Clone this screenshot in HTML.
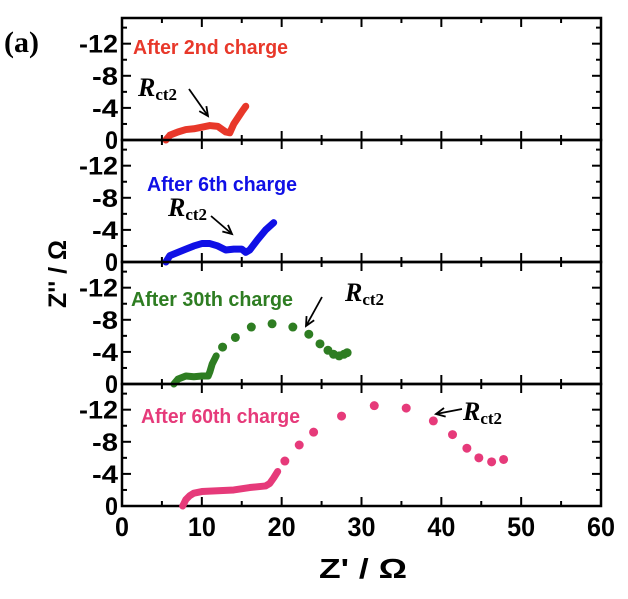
<!DOCTYPE html>
<html><head><meta charset="utf-8"><style>
body{margin:0;background:#fff;}
svg text{font-family:"Liberation Sans",Arial,sans-serif;}
</style></head><body>
<svg width="628" height="594" viewBox="0 0 628 594" xmlns="http://www.w3.org/2000/svg">
<g id="root"></g>
<text x="4" y="52" font-weight="bold" font-size="30" style="font-family:'Liberation Serif',serif">(a)</text>
<text transform="translate(66,274) rotate(-90)" text-anchor="middle" font-weight="bold" font-size="25">Z'' / Ω</text>
<text x="363" y="578" text-anchor="middle" font-weight="bold" font-size="28" textLength="88" lengthAdjust="spacingAndGlyphs">Z' /  Ω</text>
</svg>
<script>
const xTicks=[0,10,20,30,40,50,60];
const yTicks=[0,-4,-8,-12];
const panelLabels=["After 2nd charge","After 6th charge","After 30th charge","After 60th charge"];
const panelColors=["#e8382a","#1010e6","#2e7d22","#e63a7a"];
// dense (line-like) segments, [Z', -Z'']
const red=[[5.5,0],[6,0.6],[7,1],[8,1.3],[9,1.4],[10,1.6],[11,1.8],[12,1.7],[13,1],[13.5,0.9],[14,2],[15,3.5],[15.5,4.2]];
const blue=[[5.5,0],[6,0.8],[7,1.2],[8,1.6],[9,2],[10,2.3],[11,2.3],[12,2],[13,1.5],[14,1.6],[15,1.6],[15.5,1.2],[16,1.5],[17,2.8],[18,4],[19,4.9]];
const greenDense=[[6.5,0],[7,0.6],[8,1],[9,0.9],[10,1],[10.8,1],[11,1.5],[11.3,2.5],[11.8,3.5]];
const greenPts=[[12.6,4.6],[14.2,5.8],[16.2,7.1],[18.8,7.5],[21.4,7.1],[23.4,6.2],[24.8,5],[25.8,4.2],[26.5,3.7],[27.2,3.5],[27.8,3.7],[28.2,3.9]];
const pinkDense=[[7.6,0],[8,0.8],[8.5,1.3],[9,1.6],[10,1.8],[12,1.9],[14,2],[16,2.3],[18,2.5],[18.5,2.8],[19,3.5],[19.5,4.3]];
const pinkPts=[[20.4,5.6],[22.2,7.6],[24,9.2],[27.5,11.2],[31.6,12.5],[35.6,12.2],[39,10.6],[41.4,8.9],[43.2,7.2],[44.7,6],[46.3,5.5],[47.8,5.8]];
const series=[{d:red,p:[]},{d:blue,p:[]},{d:greenDense,p:greenPts},{d:pinkDense,p:pinkPts}];
const X0=122,X1=601,PT=18,PH=122,YMAX=15.2;
const sx=v=>X0+(v/60)*(X1-X0);
const NS="http://www.w3.org/2000/svg";
const root=document.getElementById('root');
function mk(t,a,p){const e=document.createElementNS(NS,t);for(const k in a)e.setAttribute(k,a[k]);(p||root).appendChild(e);return e;}
for(let i=0;i<4;i++){
  const top=PT+i*PH,bot=top+PH;
  const sy=v=>bot-(v/YMAX)*PH;
  const g=mk('g',{});
  
  
  const fr=mk('rect',{x:X0,y:top,width:X1-X0,height:PH,fill:'none',stroke:'#000','stroke-width':2.5},g);
  
  
  for(let v=0;v<=60;v+=5){const len=v%10?5:9;
    mk('line',{x1:sx(v),x2:sx(v),y1:bot,y2:bot-len,stroke:'#000','stroke-width':2},g);
    mk('line',{x1:sx(v),x2:sx(v),y1:top,y2:top+len,stroke:'#000','stroke-width':2},g);}
  for(let v=0;v<=14;v+=2){const len=v%4?5:9;
    mk('line',{x1:X0,x2:X0+len,y1:sy(v),y2:sy(v),stroke:'#000','stroke-width':2},g);
    mk('line',{x1:X1,x2:X1-len,y1:sy(v),y2:sy(v),stroke:'#000','stroke-width':2},g);}
  yTicks.forEach(t=>{const s=String(t);const tx=mk('text',{x:X0-4,y:sy(-t)+9,'text-anchor':'end','font-size':25,'font-weight':'bold',textLength:s.length*13,lengthAdjust:'spacingAndGlyphs'},g);
    
    
    tx.textContent=t;});
  const s=series[i],c=panelColors[i];
  const pl=mk('polyline',{points:s.d.map(p=>sx(p[0])+','+sy(p[1])).join(' '),fill:'none',stroke:c,'stroke-width':7,'stroke-linecap':'round','stroke-linejoin':'round'},g);
  
  
  s.p.forEach(p=>{const ci=mk('circle',{cx:sx(p[0]),cy:sy(p[1]),r:4.5,fill:c},g);
    
    });
  const lx=[133,147,131,141][i],ly=[54,191,306,423][i];
  const lb=mk('text',{x:lx,y:ly,'font-size':20,'font-weight':'bold',fill:c,textLength:[155,150,162,159][i],lengthAdjust:'spacingAndGlyphs'},g);
  
  
  lb.textContent=panelLabels[i];
}
// Rct2 annotations: text x,y, arrow from -> to
const ann=[[138,96,189,89,208,116],[168,216,211,216,232,234],[345,301,322,297,306,326],[463,420,462,409,436,414]];
ann.forEach(a=>{
  const t=mk('text',{x:a[0],y:a[1],'font-size':26,'font-weight':'bold','font-style':'italic',style:"font-family:'Liberation Serif',serif"});
  
  
  t.textContent='R';
  const sub=mk('tspan',{'font-size':17,'font-style':'normal',dy:4},t);sub.textContent='ct2';
  const ln=mk('line',{x1:a[2],y1:a[3],x2:a[4],y2:a[5],stroke:'#000','stroke-width':1.8});
  
  
  const ang=Math.atan2(a[5]-a[3],a[4]-a[2]);
  const h=10,w=0.45;
  mk('polyline',{points:`${a[4]-h*Math.cos(ang-w)},${a[5]-h*Math.sin(ang-w)} ${a[4]},${a[5]} ${a[4]-h*Math.cos(ang+w)},${a[5]-h*Math.sin(ang+w)}`,fill:'none',stroke:'#000','stroke-width':1.8});
});
xTicks.forEach(t=>{const s=String(t);const tx=mk('text',{x:sx(t),y:536,'text-anchor':'middle','font-size':27,'font-weight':'bold',textLength:s.length*14,lengthAdjust:'spacingAndGlyphs'});
  
  
  tx.textContent=t;});
</script>
</body></html>
